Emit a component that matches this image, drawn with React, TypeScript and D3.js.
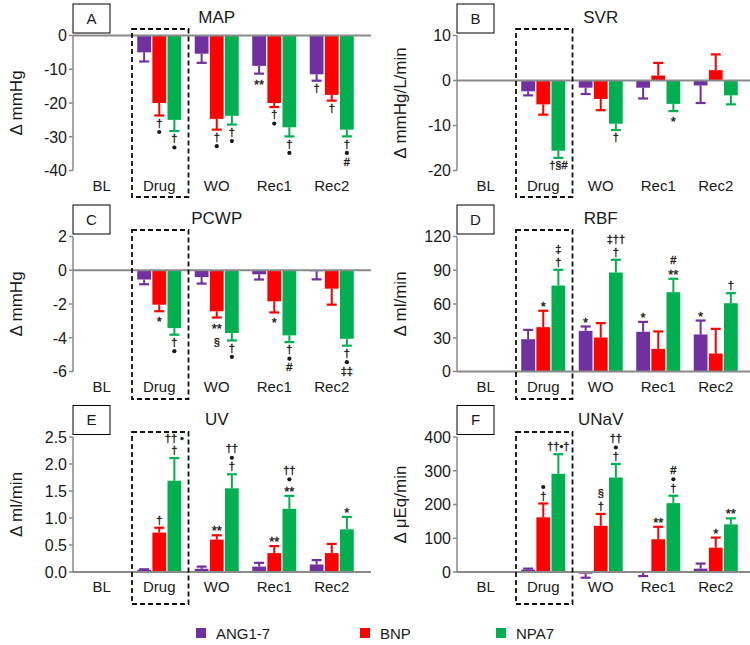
import React from "react";
import * as d3 from "d3";

// ---------- data ----------
const categories = ["BL", "Drug", "WO", "Rec1", "Rec2"];
const seriesNames = ["ANG1-7", "BNP", "NPA7"];
const seriesColors = ["#7030A0", "#FF0000", "#00B050"];

// MAP (Δ mmHg)
const mapAng = [null, -5, -5.4, -9, -11.5];
const mapAngSem = [null, 2.7, 2.7, 2.3, 1.9];
const mapBnp = [null, -20, -24.7, -20, -17.6];
const mapBnpSem = [null, 3.7, 3.2, 1.2, 1.7];
const mapNpa = [null, -25, -23.8, -27.2, -27.9];
const mapNpaSem = [null, 3.3, 2.6, 2.7, 2.0];

// SVR (Δ mmHg/L/min)
const svrAng = [null, -2.4, -1.6, -1.6, -1.1];
const svrAngSem = [null, 0.9, 1.4, 2.4, 3.9];
const svrBnp = [null, -5.3, -4.1, 1.1, 2.3];
const svrBnpSem = [null, 2.3, 2.5, 2.8, 3.5];
const svrNpa = [null, -15.6, -9.6, -5.2, -3.3];
const svrNpaSem = [null, 1.6, 1.4, 1.6, 2.0];

// PCWP (Δ mmHg)
const pcwpAng = [null, -0.55, -0.4, -0.24, -0.06];
const pcwpAngSem = [null, 0.28, 0.39, 0.31, 0.48];
const pcwpBnp = [null, -2.04, -2.43, -1.84, -1.09];
const pcwpBnpSem = [null, 0.39, 0.37, 0.66, 0.95];
const pcwpNpa = [null, -3.43, -3.72, -3.86, -4.06];
const pcwpNpaSem = [null, 0.39, 0.44, 0.4, 0.41];

// RBF (Δ ml/min)
const rbfAng = [null, 28.7, 36.1, 35.3, 32.9];
const rbfAngSem = [null, 8.3, 3.9, 8.8, 12.4];
const rbfBnp = [null, 39.4, 30.2, 20.1, 16];
const rbfBnpSem = [null, 14.6, 12.8, 15.5, 21.9];
const rbfNpa = [null, 76.4, 88, 70.5, 60.7];
const rbfNpaSem = [null, 14, 11.3, 11.9, 8.9];

// UV (Δ ml/min)
const uvAng = [null, 0.04, 0.06, 0.1, 0.14];
const uvAngSem = [null, 0.01, 0.04, 0.07, 0.08];
const uvBnp = [null, 0.73, 0.6, 0.35, 0.35];
const uvBnpSem = [null, 0.09, 0.08, 0.13, 0.17];
const uvNpa = [null, 1.69, 1.55, 1.17, 0.79];
const uvNpaSem = [null, 0.42, 0.26, 0.24, 0.23];

// UNaV (Δ μEq/min)
const unavAng = [null, 7, -5, -3, 10];
const unavAngSem = [null, 3, 12, 9, 15];
const unavBnp = [null, 162, 137, 97, 72];
const unavBnpSem = [null, 41, 35, 37, 30];
const unavNpa = [null, 291, 280, 204, 141];
const unavNpaSem = [null, 58, 40, 22, 18];

// significance marks: [categoryIndex, seriesIndex, lines top-to-bottom]
const mapMarks: [number, number, string[]][] = [
  [1, 1, ["†", "•"]], [1, 2, ["†", "•"]],
  [2, 1, ["†", "•"]], [2, 2, ["†", "•"]],
  [3, 0, ["**"]], [3, 1, ["†", "•"]], [3, 2, ["†", "•"]],
  [4, 0, ["†"]], [4, 1, ["†"]], [4, 2, ["†", "•", "#"]],
];
const svrMarks: [number, number, string[]][] = [
  [1, 2, ["†§#"]], [2, 2, ["†"]], [3, 2, ["*"]],
];
const pcwpMarks: [number, number, string[]][] = [
  [1, 1, ["*"]], [1, 2, ["†", "•"]],
  [2, 1, ["**", "§"]], [2, 2, ["†", "•"]],
  [3, 1, ["*"]], [3, 2, ["†", "•", "#"]],
  [4, 2, ["†", "•", "‡‡"]],
];
const rbfMarks: [number, number, string[]][] = [
  [1, 1, ["*"]], [1, 2, ["‡", "†"]],
  [2, 0, ["*"]], [2, 2, ["‡††", "†"]],
  [3, 0, ["*"]], [3, 2, ["#", "**"]],
  [4, 0, ["*"]], [4, 2, ["†"]],
];
const uvMarks: [number, number, string[]][] = [
  [1, 1, ["†"]], [1, 2, ["†† •", "†"]],
  [2, 1, ["**"]], [2, 2, ["††", "•", "†"]],
  [3, 1, ["**"]], [3, 2, ["††", "•", "**"]],
  [4, 2, ["*"]],
];
const unavMarks: [number, number, string[]][] = [
  [1, 1, ["•", "†"]], [1, 2, ["††•†"]],
  [2, 1, ["§", "†"]], [2, 2, ["††", "•", "†"]],
  [3, 1, ["**"]], [3, 2, ["#", "•", "†"]],
  [4, 1, ["*"]], [4, 2, ["**"]],
];

const mapTicks = [-40, -30, -20, -10, 0];
const svrTicks = [-20, -10, 0, 10];
const pcwpTicks = [-6, -4, -2, 0, 2];
const rbfTicks = [0, 30, 60, 90, 120];
const uvTicks = [0, 0.5, 1.0, 1.5, 2.0, 2.5];
const unavTicks = [0, 100, 200, 300, 400];

type Panel = {
  letter: string;
  title: string;
  ylabel: string;
  domain: [number, number];
  ticks: number[];
  fmt: (v: number) => string;
  means: (number | null)[][];
  sems: (number | null)[][];
  marks: [number, number, string[]][];
  col: number;
  row: number;
};

const intFmt = (v: number) => (v < 0 ? "-" + Math.abs(v) : String(v));
const panels: Panel[] = [
  { letter: "A", title: "MAP", ylabel: "Δ mmHg", domain: [-40, 0], ticks: mapTicks, fmt: intFmt,
    means: [mapAng, mapBnp, mapNpa], sems: [mapAngSem, mapBnpSem, mapNpaSem], marks: mapMarks, col: 0, row: 0 },
  { letter: "B", title: "SVR", ylabel: "Δ mmHg/L/min", domain: [-20, 10], ticks: svrTicks, fmt: intFmt,
    means: [svrAng, svrBnp, svrNpa], sems: [svrAngSem, svrBnpSem, svrNpaSem], marks: svrMarks, col: 1, row: 0 },
  { letter: "C", title: "PCWP", ylabel: "Δ mmHg", domain: [-6, 2], ticks: pcwpTicks, fmt: intFmt,
    means: [pcwpAng, pcwpBnp, pcwpNpa], sems: [pcwpAngSem, pcwpBnpSem, pcwpNpaSem], marks: pcwpMarks, col: 0, row: 1 },
  { letter: "D", title: "RBF", ylabel: "Δ ml/min", domain: [0, 120], ticks: rbfTicks, fmt: intFmt,
    means: [rbfAng, rbfBnp, rbfNpa], sems: [rbfAngSem, rbfBnpSem, rbfNpaSem], marks: rbfMarks, col: 1, row: 1 },
  { letter: "E", title: "UV", ylabel: "Δ ml/min", domain: [0, 2.5], ticks: uvTicks, fmt: d3.format(".1f"),
    means: [uvAng, uvBnp, uvNpa], sems: [uvAngSem, uvBnpSem, uvNpaSem], marks: uvMarks, col: 0, row: 2 },
  { letter: "F", title: "UNaV", ylabel: "Δ μEq/min", domain: [0, 400], ticks: unavTicks, fmt: intFmt,
    means: [unavAng, unavBnp, unavNpa], sems: [unavAngSem, unavBnpSem, unavNpaSem], marks: unavMarks, col: 1, row: 2 },
];

// ---------- layout ----------
const W = 750;
const H = 645;
const colX = [73, 457];
const rowTop = [35.5, 236.5, 437];
const plotH = 135;
const bandW = 57.5;
const axisLen = 298;
const dashBox = [[29, 197], [230, 399], [432, 604]];
const FONT = "'Liberation Sans', Arial, Helvetica, sans-serif";
const TXT = "#1a1a1a";
const AXIS = "#8a8a8a";
const MARK_OFF = 7.5;
const MARK_STEP = 9;

const isStar = (t: string) => /^\*+$/.test(t);
const markFs = (t: string) => (isStar(t) ? 13 : 11);
const markK = (t: string) => (isStar(t) ? 0.58 : 0.33);
const botOff = (t: string) => (markK(t) + 0.212) * markFs(t);
const topOff = (t: string) => (markK(t) - 0.905) * markFs(t);
const pairStep = (a: string, b: string) =>
  a === "•" || b === "•" ? MARK_STEP : Math.max(10.5, botOff(a) - topOff(b) + 0.3);

function PanelChart({ p }: { p: Panel }) {
  const x0 = colX[p.col];
  const top = rowTop[p.row];
  const y = d3.scaleLinear().domain(p.domain).range([top + plotH, top]);
  const x = d3.scaleBand().domain(categories).range([x0, x0 + bandW * categories.length]);
  const inner = d3.scaleBand().domain(seriesNames).range([-22, 22]).paddingInner(0.09);
  const bw = inner.bandwidth();
  const y0 = y(0);
  const cx = (c: string) => (x(c) as number) + x.bandwidth() / 2;

  const bars: React.ReactNode[] = [];
  p.means.forEach((arr, si) => {
    arr.forEach((m, ci) => {
      if (m === null) return;
      const sem = p.sems[si][ci] as number;
      const bx = cx(categories[ci]) + (inner(seriesNames[si]) as number);
      const sign = m < 0 ? -1 : 1;
      const yEnd = y(m + sign * sem);
      const color = seriesColors[si];
      bars.push(
        <g key={`b${si}-${ci}`}>
          <rect x={bx} width={bw} y={Math.min(y(m), y0)} height={Math.abs(y(m) - y0)} fill={color} />
          <line x1={bx + bw / 2} x2={bx + bw / 2} y1={y(m)} y2={yEnd} stroke={color} strokeWidth={2} />
          <line x1={bx + bw / 2 - 5} x2={bx + bw / 2 + 5} y1={yEnd} y2={yEnd} stroke={color} strokeWidth={2.2} />
        </g>
      );
    });
  });

  const marks = p.marks.map(([ci, si, lines], k) => {
    const m = p.means[si][ci] as number;
    const sem = p.sems[si][ci] as number;
    const sign = m < 0 ? -1 : 1;
    const yEnd = y(m + sign * sem);
    const bx = cx(categories[ci]) + (inner(seriesNames[si]) as number) + bw / 2;
    const n = lines.length;
    const centers: number[] = new Array(n);
    if (sign < 0) {
      centers[0] = yEnd + MARK_OFF;
      for (let i = 1; i < n; i++) centers[i] = centers[i - 1] + pairStep(lines[i - 1], lines[i]);
    } else {
      centers[n - 1] = yEnd - MARK_OFF;
      for (let i = n - 2; i >= 0; i--) centers[i] = centers[i + 1] - pairStep(lines[i], lines[i + 1]);
    }
    const items = lines.map((t, i) => ({ t, c: centers[i] }));
    const textLines = items.filter((d) => d.t !== "•");
    const dots = items.filter((d) => d.t === "•");
    return (
      <g key={`m${k}`}>
        {dots.map((d, i) => (
          <circle key={`d${i}`} cx={bx} cy={d.c} r={2.1} fill={TXT} />
        ))}
        {textLines.length > 0 && (
          <text textAnchor="middle" fill={TXT} stroke={TXT} strokeWidth={0.35} fontFamily={FONT}>
            {textLines.map((d, i) => {
              const fs = markFs(d.t);
              const base = d.c + markK(d.t) * fs;
              return (
                <tspan key={i} x={bx} y={base} fontSize={fs}>
                  {d.t}
                </tspan>
              );
            })}
          </text>
        )}
      </g>
    );
  });

  const drugX = x("Drug") as number;
  const db = dashBox[p.row];

  return (
    <g>
      {/* panel letter box */}
      <rect x={x0} y={top - 31.5} width={37} height={29} fill="white" stroke="#000" strokeWidth={1} />
      <text x={x0 + 18.5} y={top - 12} textAnchor="middle" fontSize={15} fill={TXT} fontFamily={FONT}>{p.letter}</text>
      {/* title */}
      <text x={x0 + bandW * 2.5} y={top - 12.5} textAnchor="middle" fontSize={17} fill={TXT} fontFamily={FONT}>{p.title}</text>
      {/* y axis */}
      <line x1={x0} x2={x0} y1={top} y2={top + plotH} stroke={AXIS} strokeWidth={1.5} />
      {p.ticks.map((t) => (
        <g key={t}>
          <line x1={x0 - 4} x2={x0} y1={y(t)} y2={y(t)} stroke={AXIS} strokeWidth={1.5} />
          <text x={x0 - 6} y={y(t)} dy="0.36em" textAnchor="end" fontSize={16} fill={TXT} fontFamily={FONT}>
            {p.fmt(t)}
          </text>
        </g>
      ))}
      <text
        transform={`translate(${x0 - 57},${top + plotH / 2}) rotate(-90)`}
        textAnchor="middle"
        dy="0.35em"
        fontSize={17}
        fill={TXT}
        fontFamily={FONT}
      >
        {p.ylabel}
      </text>
      {bars}
      {/* zero line */}
      <line x1={x0} x2={x0 + axisLen} y1={y0} y2={y0} stroke={AXIS} strokeWidth={2} />
      {marks}
      {/* category labels */}
      {categories.map((c) => (
        <text key={c} x={cx(c)} y={top + plotH + 20} textAnchor="middle" fontSize={15} fill={TXT} fontFamily={FONT}>
          {c}
        </text>
      ))}
      {/* dashed drug box */}
      <rect
        x={drugX + 1.5}
        y={db[0]}
        width={bandW - 1}
        height={db[1] - db[0]}
        fill="none"
        stroke="#111"
        strokeWidth={1.8}
        strokeDasharray="5,3"
      />
    </g>
  );
}

const legendX = [196, 360, 496];

export default function App() {
  return (
    <svg
      width={W}
      height={H}
      viewBox={`0 0 ${W} ${H}`}
      style={{ position: "absolute", left: 0, top: 0, background: "white" }}
    >
      <rect width={W} height={H} fill="white" />
      {panels.map((p) => (
        <PanelChart key={p.letter} p={p} />
      ))}
      {seriesNames.map((s, i) => (
        <g key={s}>
          <rect x={legendX[i]} y={628} width={10} height={10} fill={seriesColors[i]} />
          <text x={legendX[i] + 20} y={639} fontSize={15} fill={TXT} fontFamily={FONT}>{s}</text>
        </g>
      ))}
    </svg>
  );
}
